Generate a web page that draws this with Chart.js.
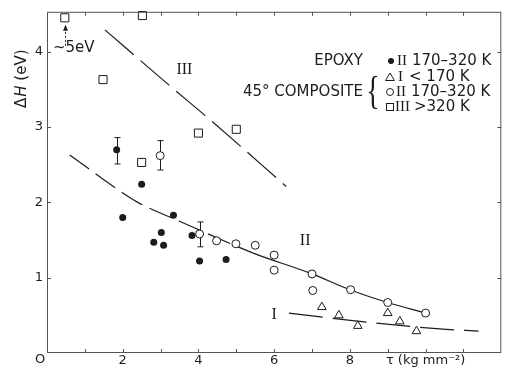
<!DOCTYPE html>
<html>
<head>
<meta charset="utf-8">
<script src="https://cdn.jsdelivr.net/npm/chart.js@4.4.1/dist/chart.umd.min.js"></script>
<style>
  body { margin: 0; background: #fff; }
</style>
</head>
<body>
<canvas id="dh_chart" width="508" height="374"></canvas>
<script>
// activation energy dH (eV) against stress tau (kg mm^-2)
const epoxyX = [1.84, 2.0, 2.5, 2.82, 3.02, 3.08, 3.34, 3.83, 4.03, 4.73];
const epoxyY = [2.70, 1.80, 2.24, 1.47, 1.60, 1.43, 1.83, 1.56, 1.22, 1.24];

const compIX = [7.26, 7.71, 8.21, 9.0, 9.32, 9.76];
const compIY = [0.61, 0.50, 0.36, 0.53, 0.42, 0.29];

const compIIX = [2.99, 4.03, 4.48, 4.99, 5.5, 6.0, 6.0, 7.0, 7.02, 8.02, 9.0, 10.0];
const compIIY = [2.62, 1.58, 1.49, 1.45, 1.43, 1.30, 1.10, 1.05, 0.83, 0.84, 0.67, 0.53];

const compIIIX = [0.47, 1.48, 2.5, 2.52, 4.0, 5.0];
const compIIIY = [4.45, 3.63, 2.53, 4.48, 2.92, 2.97];

// error bars
const errX = [1.84, 2.99, 4.03];
const errLo = [2.51, 2.43, 1.41];
const errHi = [2.86, 2.82, 1.74];

// hand drawn curves
const curveIX = [6.39, 8.08, 10.37, 11.4];
const curveIY = [0.53, 0.43, 0.32, 0.29];
const curveIIX = [0.6, 1.84, 2.4, 3.5, 5.43, 7.0, 8.0, 9.0, 10.0];
const curveIIY = [2.63, 2.18, 2.0, 1.75, 1.33, 1.05, 0.84, 0.67, 0.53];
const curveIIIX = [1.53, 3.24, 4.37, 6.32];
const curveIIIY = [4.29, 3.55, 3.07, 2.21];

const xTickLabels = {2: '2', 4: '4', 6: '6', 8: '8', 10: 'τ (kg mm⁻²)'};
const yTickLabels = {1: '1', 2: '2', 3: '3', 4: '4'};

const ink = '#1c1c1c';
const sans = '"DejaVu Sans", sans-serif';
const serif = '"Liberation Serif", serif';

function pts(xs, ys) {
    return xs.map((x, i) => ({x: x, y: ys[i]}));
}

function runs(ctx, x, y, parts) {
    // draw text pieces one after another, each with its own font
    parts.forEach(p => {
        ctx.font = p[1];
        ctx.fillText(p[0], x, y);
        x += ctx.measureText(p[0]).width + (p[2] || 0);
    });
}

const extras = {
    id: 'extras',
    beforeDatasetsDraw(chart) {
        const {ctx, scales: {x, y}} = chart;
        ctx.save();
        ctx.strokeStyle = ink;
        ctx.lineWidth = 1;
        errX.forEach((v, i) => {
            const px = Math.round(x.getPixelForValue(v)) + 0.5;
            const top = y.getPixelForValue(errHi[i]);
            const bot = y.getPixelForValue(errLo[i]);
            ctx.beginPath();
            ctx.moveTo(px, top); ctx.lineTo(px, bot);
            ctx.moveTo(px - 3, top); ctx.lineTo(px + 3, top);
            ctx.moveTo(px - 3, bot); ctx.lineTo(px + 3, bot);
            ctx.stroke();
        });
        ctx.restore();
    },
    afterDraw(chart) {
        const {ctx, chartArea: a, scales: {x, y}} = chart;
        ctx.save();

        // frame and inward ticks
        ctx.strokeStyle = '#555';
        ctx.lineWidth = 1;
        ctx.strokeRect(a.left + 0.5, a.top + 0.5, a.right - a.left - 1, a.bottom - a.top - 1);
        ctx.beginPath();
        for (let v = 1; v <= 11; v++) {
            const px = Math.round(x.getPixelForValue(v)) + 0.5;
            ctx.moveTo(px, a.bottom); ctx.lineTo(px, a.bottom - 4);
            ctx.moveTo(px, a.top); ctx.lineTo(px, a.top + 4);
        }
        for (let v = 1; v <= 4; v++) {
            const py = Math.round(y.getPixelForValue(v)) + 0.5;
            ctx.moveTo(a.left, py); ctx.lineTo(a.left + 4, py);
            ctx.moveTo(a.right, py); ctx.lineTo(a.right - 4, py);
        }
        ctx.stroke();

        ctx.fillStyle = ink;
        ctx.textBaseline = 'middle';

        // shared origin
        ctx.font = '13px ' + sans;
        ctx.textAlign = 'center';
        ctx.fillText('O', 40, 360);

        // y title
        ctx.save();
        ctx.translate(22, 108);
        ctx.rotate(-Math.PI / 2);
        ctx.textAlign = 'left';
        runs(ctx, 0, 0, [['Δ', '15px ' + sans, 1], ['H', 'italic 15px ' + sans], [' (eV)', '15px ' + sans]]);
        ctx.restore();

        // off-scale point marker
        const ax = Math.round(x.getPixelForValue(compIIIX[0])) + 0.5;
        const ay = y.getPixelForValue(compIIIY[0]);
        ctx.strokeStyle = ink;
        ctx.setLineDash([2, 2]);
        ctx.beginPath();
        ctx.moveTo(ax, ay + 28); ctx.lineTo(ax, ay + 12);
        ctx.stroke();
        ctx.setLineDash([]);
        ctx.beginPath();
        ctx.moveTo(ax, ay + 7); ctx.lineTo(ax - 2.5, ay + 13); ctx.lineTo(ax + 2.5, ay + 13);
        ctx.closePath();
        ctx.fill();
        ctx.textAlign = 'left';
        ctx.font = '15px ' + sans;
        ctx.fillText('~5eV', 53, 48);

        // curve labels
        ctx.textAlign = 'center';
        ctx.font = '16px ' + serif;
        ctx.fillText('III', x.getPixelForValue(3.63), y.getPixelForValue(3.76));
        ctx.fillText('II', x.getPixelForValue(6.82), y.getPixelForValue(1.49));
        ctx.fillText('I', x.getPixelForValue(6.0), y.getPixelForValue(0.51));

        // key
        const rows = [61, 77, 92, 107];
        const f = '15px ' + sans, fr = '15px ' + serif;
        ctx.textAlign = 'right';
        ctx.font = f;
        ctx.fillText('EPOXY', 363, rows[0]);
        ctx.fillText('45° COMPOSITE', 363, rows[2]);
        ctx.save();
        ctx.font = '40px ' + serif;
        ctx.textAlign = 'center';
        ctx.translate(373, rows[2] + 1);
        ctx.scale(0.7, 1);
        ctx.fillText('{', 0, 0);
        ctx.restore();

        ctx.lineWidth = 1;
        ctx.beginPath();
        ctx.arc(391, rows[0], 3, 0, Math.PI * 2);
        ctx.fill();
        ctx.beginPath();
        ctx.moveTo(390, rows[1] - 4); ctx.lineTo(394.5, rows[1] + 3.5); ctx.lineTo(385.5, rows[1] + 3.5);
        ctx.closePath();
        ctx.stroke();
        ctx.beginPath();
        ctx.arc(390, rows[2], 3.5, 0, Math.PI * 2);
        ctx.stroke();
        ctx.strokeRect(386.5, rows[3] - 3.5, 7, 7);

        ctx.textAlign = 'left';
        runs(ctx, 397, rows[0], [['II', fr, 5], ['170–320 K', f]]);
        runs(ctx, 398, rows[1], [['I', fr, 6], ['< 170 K', f]]);
        runs(ctx, 396, rows[2], [['II', fr, 5], ['170–320 K', f]]);
        runs(ctx, 395, rows[3], [['III', fr, 4], ['>320 K', f]]);

        ctx.restore();
    }
};

const sample = document.getElementById('dh_chart');
const myChart = new Chart(sample, {
    type: 'scatter',
    data: {
        datasets: [
            {
                data: pts(epoxyX, epoxyY),
                pointStyle: 'circle',
                pointRadius: 3.5,
                pointBorderWidth: 0,
                pointBackgroundColor: ink,
                order: 1
            },
            {
                data: pts(compIIX, compIIY),
                pointStyle: 'circle',
                pointRadius: 4,
                pointBorderWidth: 1,
                pointBorderColor: ink,
                pointBackgroundColor: '#fff',
                order: 1
            },
            {
                data: pts(compIX, compIY),
                pointStyle: 'triangle',
                pointRadius: 5,
                pointBorderWidth: 1,
                pointBorderColor: ink,
                pointBackgroundColor: '#fff',
                order: 1
            },
            {
                data: pts(compIIIX, compIIIY),
                pointStyle: 'rect',
                pointRadius: 5.7,
                pointBorderWidth: 1,
                pointBorderColor: ink,
                pointBackgroundColor: '#fff',
                clip: false,
                order: 1
            },
            {
                data: pts(curveIIIX, curveIIIY),
                showLine: true,
                pointRadius: 0,
                borderColor: ink,
                borderWidth: 1.2,
                borderDash: [38, 9],
                cubicInterpolationMode: 'monotone',
                order: 2
            },
            {
                data: pts(curveIIX, curveIIY),
                showLine: true,
                pointRadius: 0,
                borderColor: ink,
                borderWidth: 1.2,
                cubicInterpolationMode: 'monotone',
                segment: {
                    borderDash: c => c.p0.parsed.x < 5 ? [24, 8] : undefined
                },
                order: 2
            },
            {
                data: pts(curveIX, curveIY),
                showLine: true,
                pointRadius: 0,
                borderColor: ink,
                borderWidth: 1.2,
                borderDash: [34, 10],
                cubicInterpolationMode: 'monotone',
                order: 2
            }
        ]
    },
    options: {
        responsive: false,
        animation: false,
        layout: {
            padding: {top: 9, right: 4, left: 0, bottom: 0}
        },
        plugins: {
            legend: {display: false},
            tooltip: {enabled: false}
        },
        scales: {
            x: {
                type: 'linear',
                min: 0,
                max: 12,
                grid: {display: false, drawTicks: false},
                border: {display: false},
                ticks: {
                    stepSize: 1,
                    padding: 0,
                    maxRotation: 0,
                    autoSkip: false,
                    color: ink,
                    font: {family: sans, size: 13},
                    callback: v => xTickLabels[v] || ''
                },
                afterFit: s => { s.height = 21; }
            },
            y: {
                type: 'linear',
                min: 0,
                max: 4.53,
                grid: {display: false, drawTicks: false},
                border: {display: false},
                ticks: {
                    stepSize: 1,
                    padding: 4,
                    color: ink,
                    font: {family: sans, size: 13},
                    callback: v => yTickLabels[v] || ''
                },
                afterFit: s => { s.width = 47; }
            }
        }
    },
    plugins: [extras]
});
</script>
</body>
</html>
